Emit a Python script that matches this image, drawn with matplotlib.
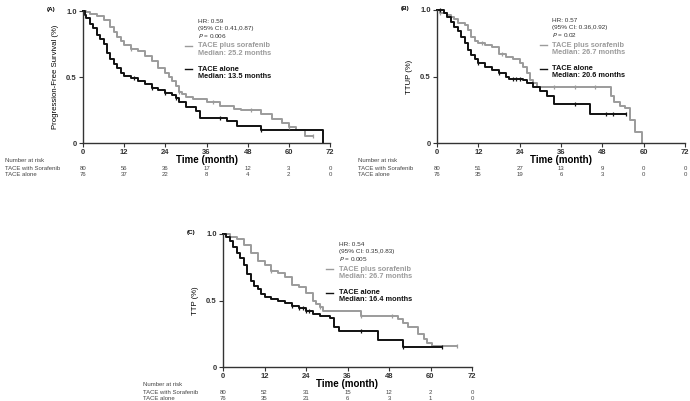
import matplotlib
matplotlib.use("Agg")
import matplotlib.pyplot as plt
import numpy as np

plt.rcParams['font.family'] = ['Liberation Sans', 'DejaVu Sans']

GRAY = '#9b9b9b'
BLACK = '#111111'

# ---- panel A : progression-free survival
a_sor_t = [0, 1, 2, 4, 6, 8, 9, 10, 11, 12, 14, 16, 18, 20, 22, 24, 25, 26, 27, 28, 29, 30, 32, 36, 40, 44, 46, 52, 55, 58, 60, 62, 64.8, 67]
a_sor_s = [1.0, 0.99, 0.98, 0.96, 0.93, 0.88, 0.84, 0.80, 0.77, 0.74, 0.71, 0.70, 0.66, 0.62, 0.57, 0.53, 0.50, 0.47, 0.43, 0.39, 0.37, 0.35, 0.33, 0.31, 0.28, 0.26, 0.25, 0.22, 0.18, 0.15, 0.12, 0.10, 0.05, 0.05]
a_alo_t = [0, 0.5, 1, 2, 3, 4, 5, 6, 7, 8, 9, 10, 11, 12, 14, 16, 18, 20, 22, 24, 26, 27, 28, 30, 33, 34, 42, 45, 52, 70]
a_alo_s = [1.0, 0.97, 0.95, 0.90, 0.87, 0.82, 0.79, 0.75, 0.68, 0.64, 0.60, 0.57, 0.53, 0.51, 0.49, 0.47, 0.45, 0.42, 0.40, 0.38, 0.36, 0.34, 0.31, 0.27, 0.24, 0.19, 0.17, 0.13, 0.10, 0.0]
a_sor_cens = [14, 28, 38, 49, 60, 67]
a_alo_cens = [15, 20, 24, 27, 40, 52]
a_risk_sor = [80, 56, 36, 17, 12, 3, 0]
a_risk_alo = [76, 37, 22, 8, 4, 2, 0]

# ---- panel B : TTUP
b_sor_t = [0, 1, 3, 4, 5, 6, 8, 9, 10, 11, 12, 14, 16, 18, 20, 22, 24, 25, 26, 27, 28, 29, 50.5, 51.5, 53, 54.5, 56, 57.5, 59.5]
b_sor_s = [1.0, 0.98, 0.96, 0.95, 0.93, 0.90, 0.89, 0.85, 0.80, 0.77, 0.75, 0.74, 0.72, 0.67, 0.65, 0.63, 0.60, 0.57, 0.53, 0.47, 0.45, 0.42, 0.35, 0.31, 0.28, 0.26, 0.17, 0.08, 0.0]
b_alo_t = [0, 2, 3, 4, 5, 6, 7, 8, 9, 10, 11, 12, 14, 16, 18, 20, 21, 25, 26, 28, 30, 32, 34, 44.5, 55]
b_alo_s = [1.0, 0.98, 0.95, 0.91, 0.87, 0.84, 0.80, 0.75, 0.70, 0.66, 0.63, 0.60, 0.57, 0.55, 0.53, 0.50, 0.48, 0.47, 0.45, 0.42, 0.39, 0.35, 0.29, 0.22, 0.22]
b_sor_cens = [1, 13, 19, 34, 40, 46]
b_alo_cens = [1, 12, 18, 22, 23, 24, 40, 49, 51, 55]
b_risk_sor = [80, 51, 27, 13, 9, 0, 0]
b_risk_alo = [76, 35, 19, 6, 3, 0, 0]

# ---- panel C : TTP
c_sor_t = [0, 2, 4, 6, 8, 10, 12, 14, 16, 18, 20, 22, 24, 26, 27, 28, 29, 40, 50.7, 52, 53.6, 56.5, 58, 59, 60.3, 67.6]
c_sor_s = [1.0, 0.98, 0.96, 0.92, 0.86, 0.80, 0.77, 0.72, 0.71, 0.68, 0.62, 0.60, 0.56, 0.50, 0.47, 0.45, 0.42, 0.38, 0.36, 0.33, 0.30, 0.25, 0.21, 0.18, 0.16, 0.16]
c_alo_t = [0, 1, 2, 3, 4, 5, 6, 7, 8, 9, 10, 11, 12, 14, 16, 18, 20, 22, 24, 26, 28, 31, 32, 33.5, 44.8, 52, 63.4]
c_alo_s = [1.0, 0.98, 0.95, 0.90, 0.86, 0.82, 0.77, 0.70, 0.65, 0.61, 0.59, 0.55, 0.53, 0.51, 0.50, 0.48, 0.46, 0.44, 0.42, 0.40, 0.38, 0.37, 0.30, 0.27, 0.20, 0.15, 0.15]
c_sor_cens = [14, 28, 40, 49, 67.6]
c_alo_cens = [20, 22, 23, 24, 25, 40, 52, 63.4]
c_risk_sor = [80, 52, 31, 15, 12, 2, 0]
c_risk_alo = [76, 35, 21, 6, 3, 1, 0]

risk_times = [0, 12, 24, 36, 48, 60, 72]

W, H = 690, 401
fig = plt.figure(figsize=(6.9, 4.01), dpi=100)


def px_ax(left, right, top, bottom):
    return fig.add_axes([left / W, 1 - bottom / H, (right - left) / W, (bottom - top) / H])


def surv_at(t, s, x):
    idx = np.searchsorted(t, x, side='right') - 1
    return np.array(s)[idx]


def km_panel(ax, tag, ylab, st, ss, at, as_, sc, ac, hr, ci, p, med_s, med_a,
             risk_s, risk_a, label_x_px, ax_left_px):
    ax.step(st, ss, where='post', color=GRAY, lw=1.4, clip_on=False)
    ax.step(at, as_, where='post', color=BLACK, lw=1.4, clip_on=False)
    ax.plot(sc, surv_at(st, ss, sc), ls='none', marker='|', ms=3.5, mew=0.9, color=GRAY, clip_on=False)
    ax.plot(ac, surv_at(at, as_, ac), ls='none', marker='|', ms=3.5, mew=0.9, color=BLACK, clip_on=False)

    ax.set_xlim(0, 72)
    ax.set_ylim(0, 1.0)
    ax.set_xticks(risk_times)
    ax.set_yticks([0, 0.5, 1.0])
    ax.set_yticklabels(['0', '0.5', '1.0'])
    for sp in ['top', 'right']:
        ax.spines[sp].set_visible(False)
    for sp in ['left', 'bottom']:
        ax.spines[sp].set_linewidth(1.0)
        ax.spines[sp].set_color('#333333')
    ax.tick_params(direction='out', length=3, width=0.8, pad=1.5, labelsize=5.5, colors='#333333')
    for lb in ax.get_xticklabels() + ax.get_yticklabels():
        lb.set_fontweight('bold')
    ax.set_ylabel(ylab, fontsize=5.6, labelpad=5)

    ax.text(-0.13, 1.01, tag, transform=ax.transAxes, fontsize=4.5, fontweight='bold', ha='center', va='center')

    tx = 33.5
    tr = ax.get_xaxis_transform()
    ax.text(tx, 0.92, 'HR: ' + hr, transform=tr, fontsize=4.6, color='#333333', va='center')
    ax.text(tx, 0.865, '(95% CI: ' + ci + ')', transform=tr, fontsize=4.6, color='#333333', va='center')
    ax.text(tx, 0.81, '$P$ = ' + p, transform=tr, fontsize=4.6, color='#333333', va='center')
    ax.plot([29.8, 31.8], [0.735, 0.735], color=GRAY, lw=1.0, transform=tr, clip_on=False)
    ax.text(tx, 0.735, 'TACE plus sorafenib', transform=tr, fontsize=5.3, fontweight='bold', color=GRAY, va='center')
    ax.text(tx, 0.68, 'Median: ' + med_s + ' months', transform=tr, fontsize=5.3, fontweight='bold', color=GRAY, va='center')
    ax.plot([29.8, 31.8], [0.56, 0.56], color=BLACK, lw=1.0, transform=tr, clip_on=False)
    ax.text(tx, 0.56, 'TACE alone', transform=tr, fontsize=5.3, fontweight='bold', color=BLACK, va='center')
    ax.text(tx, 0.505, 'Median: ' + med_a + ' months', transform=tr, fontsize=5.3, fontweight='bold', color=BLACK, va='center')

    ax.text(36, -0.13, 'Time (month)', transform=tr, fontsize=7, fontweight='bold', ha='center', va='center')

    # number at risk table
    fx = lambda px: (px - ax_left_px) / 3.44
    ax.text(fx(label_x_px), -0.13, 'Number at risk', transform=tr, fontsize=4.3, color='#444444', va='center', ha='left')
    ax.text(fx(label_x_px), -0.19, 'TACE with Sorafenib', transform=tr, fontsize=4.3, color='#444444', va='center', ha='left')
    ax.text(fx(label_x_px), -0.235, 'TACE alone', transform=tr, fontsize=4.3, color='#444444', va='center', ha='left')
    for x, n1, n2 in zip(risk_times, risk_s, risk_a):
        ax.text(x, -0.19, str(n1), transform=tr, fontsize=4.3, color='#444444', ha='center', va='center')
        ax.text(x, -0.235, str(n2), transform=tr, fontsize=4.3, color='#444444', ha='center', va='center')


axA = px_ax(83, 330, 11, 143)
km_panel(axA, '(A)', 'Progression-Free Survival (%)', a_sor_t, a_sor_s, a_alo_t, a_alo_s,
         a_sor_cens, a_alo_cens, '0.59', '0.41,0.87', '0.006', '25.2', '13.5',
         a_risk_sor, a_risk_alo, 5, 83)

axB = px_ax(437, 685, 10, 143)
km_panel(axB, '(B)', 'TTUP (%)', b_sor_t, b_sor_s, b_alo_t, b_alo_s,
         b_sor_cens, b_alo_cens, '0.57', '0.36,0.92', '0.02', '26.7', '20.6',
         b_risk_sor, b_risk_alo, 358, 437)

axC = px_ax(223, 472, 234, 367)
km_panel(axC, '(C)', 'TTP (%)', c_sor_t, c_sor_s, c_alo_t, c_alo_s,
         c_sor_cens, c_alo_cens, '0.54', '0.35,0.83', '0.005', '26.7', '16.4',
         c_risk_sor, c_risk_alo, 143, 223)

fig.savefig('out.png', dpi=100)
